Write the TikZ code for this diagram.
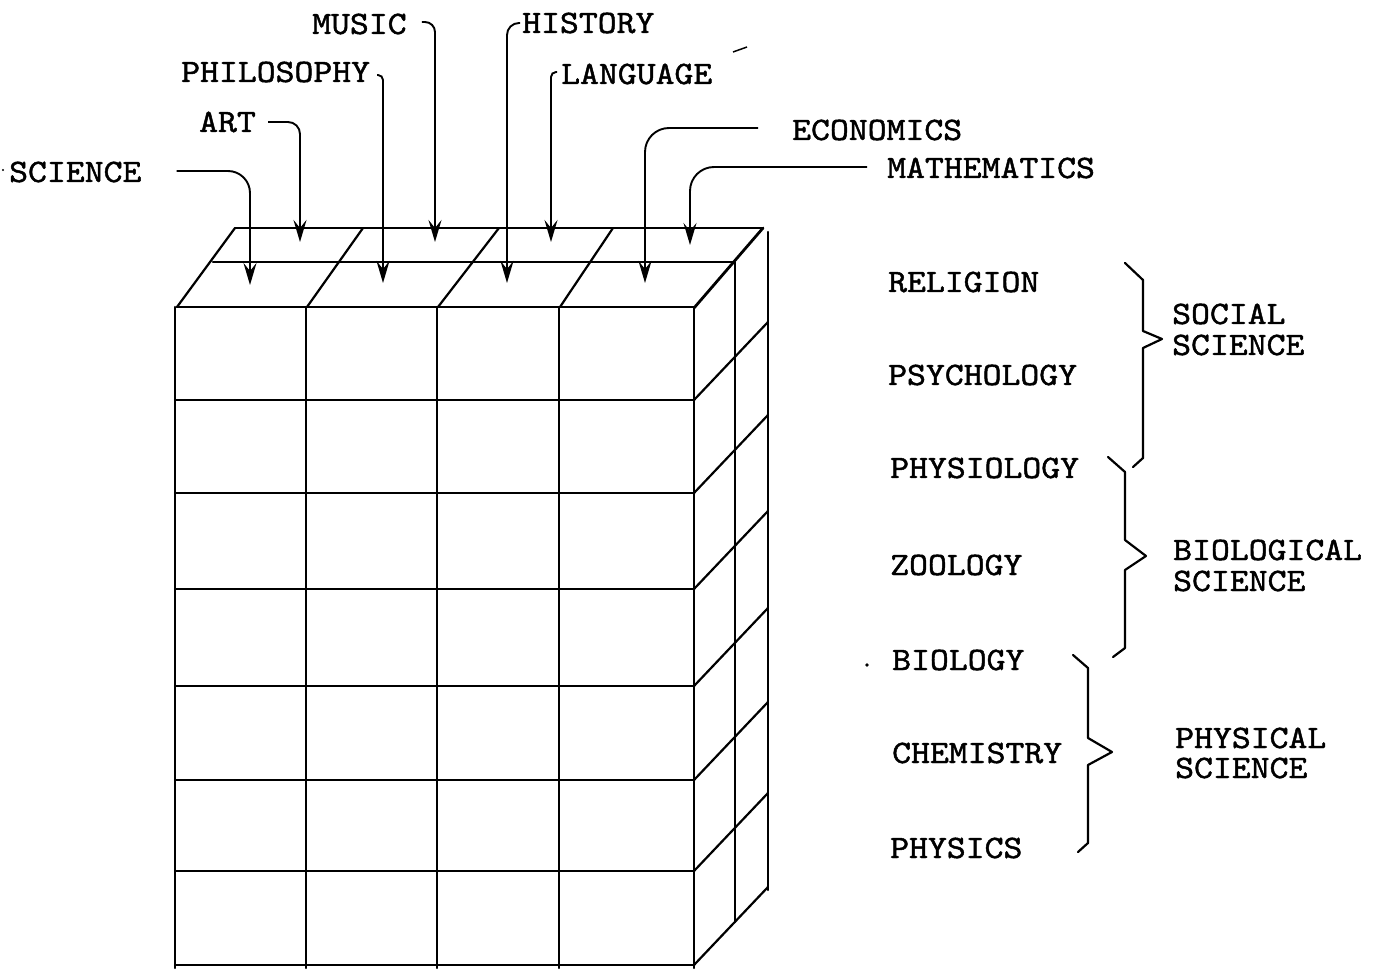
\documentclass[tikz,border=0pt]{standalone}
\usepackage{fontspec}
\usetikzlibrary{arrows.meta}
\newfontfamily\twfam{lmmono10-regular.otf}[FakeStretch=1.1,FakeBold=1.4]
\newcommand{\twfont}{\twfam\fontsize{32.7}{36}\selectfont}
\begin{document}
\begin{tikzpicture}[x=1pt,y=-1pt,
  lab/.style={font=\twfont, inner sep=0pt, anchor=west, text height=20pt, text depth=0pt},
  boxline/.style={line width=2.2pt, line cap=round},
  conn/.style={line width=1.9pt, rounded corners=16pt, -{Stealth[length=22pt,width=13pt,inset=8pt]}},
  bracepath/.style={line width=2.2pt, line join=round, line cap=round}]
\fill[white] (0,0) rectangle (1382,973);
\useasboundingbox (0,0) rectangle (1382,973);

% ---------- box: top face ----------
\draw[boxline] (235,228) -- (763,228);
\draw[boxline] (213,262) -- (734,262);
\draw[boxline] (177,307) -- (694,307);
\draw[boxline] (177,307) -- (235,228);
\draw[boxline] (307,307) -- (363,228);
\draw[boxline] (438,307) -- (499,228);
\draw[boxline] (560,307) -- (613,228);
\draw[boxline, line width=2.8pt] (694,308) -- (763,228);

% ---------- box: front face ----------
\foreach \x in {175,306,437,559,694} \draw[boxline] (\x,307) -- (\x,968);
\foreach \y in {400,493,589,686,780,871,965} \draw[boxline] (175,\y) -- (694,\y);

% ---------- box: right face ----------
\draw[boxline] (768,232) -- (768,890);
\draw[boxline] (735,262) -- (735,922);
\foreach \y in {400,493,589,686,780,871,965} \draw[boxline] (694,\y) -- (768,\y-78);

% ---------- top labels ----------
\node[lab] (science) at (9,172) {SCIENCE};
\node[lab] (art) at (199,122) {ART};
\node[lab] (philosophy) at (181,72) {PHILOSOPHY};
\node[lab] (music) at (312,24) {MUSIC};
\node[lab] (history) at (522,23) {HISTORY};
\node[lab] (language) at (561,74) {LANGUAGE};
\node[lab] (economics) at (792,130) {ECONOMICS};
\node[lab] (mathematics) at (887,168) {MATHEMATICS};

% arrow tips on the top face
\coordinate (tsci) at (250,285);
\coordinate (tart) at (300,242);
\coordinate (tphil) at (383,283);
\coordinate (tmus) at (435,242);
\coordinate (thist) at (507,283);
\coordinate (tlang) at (551,242);
\coordinate (tecon) at (645,283);
\coordinate (tmath) at (690,245);

\draw[conn, rounded corners=22pt] ([xshift=35pt,yshift=1pt]science.east) -| (tsci);
\draw[conn, rounded corners=12pt] ([xshift=12pt]art.east) -| (tart);
\draw[conn, rounded corners=5pt] ([xshift=7pt,yshift=-3pt]philosophy.east) -| (tphil);
\draw[conn, rounded corners=10pt] ([xshift=15pt,yshift=2pt]music.east) -| (tmus);
\draw[conn, rounded corners=12pt] ([xshift=-2pt]history.west) -| (thist);
\draw[conn, rounded corners=5pt] ([xshift=-4pt,yshift=2pt]language.west) -| (tlang);
\draw[conn, rounded corners=24pt] ([xshift=-34pt,yshift=2pt]economics.west) -| (tecon);
\draw[conn, rounded corners=24pt] ([xshift=-20pt,yshift=1pt]mathematics.west) -| (tmath);

% small stray marks
\draw[line width=1.5pt] (733,52) -- (747,47);
\fill (867,665) circle (1.8pt);
\fill (3,170) circle (1.2pt);

% ---------- right labels ----------
\node[lab] (religion) at (888,282) {RELIGION};
\node[lab] (psychology) at (888,375) {PSYCHOLOGY};
\node[lab] (physiology) at (890,468) {PHYSIOLOGY};
\node[lab] (zoology) at (890,565) {ZOOLOGY};
\node[lab] (biology) at (892,660) {BIOLOGY};
\node[lab] (chemistry) at (892,753) {CHEMISTRY};
\node[lab] (physics) at (890,848) {PHYSICS};

\node[lab] (social) at (1172,314) {SOCIAL};
\node[lab] (socsci) at (1172,345) {SCIENCE};
\node[lab] (biological) at (1173,550) {BIOLOGICAL};
\node[lab] (biosci) at (1173,581) {SCIENCE};
\node[lab] (physical) at (1175,738) {PHYSICAL};
\node[lab] (physsci) at (1175,768) {SCIENCE};

% ---------- braces ----------
\draw[bracepath] (1125,263) -- (1143,280) -- (1143,331) -- (1162,339) -- (1143,348) -- (1143,458) -- (1133,467);
\draw[bracepath] (1108,457) -- (1125,472) -- (1125,540) -- (1146,556) -- (1125,570) -- (1125,648) -- (1113,657);
\draw[bracepath] (1073,655) -- (1088,668) -- (1088,738) -- (1112,752) -- (1088,765) -- (1088,843) -- (1078,852);
\end{tikzpicture}
\end{document}
